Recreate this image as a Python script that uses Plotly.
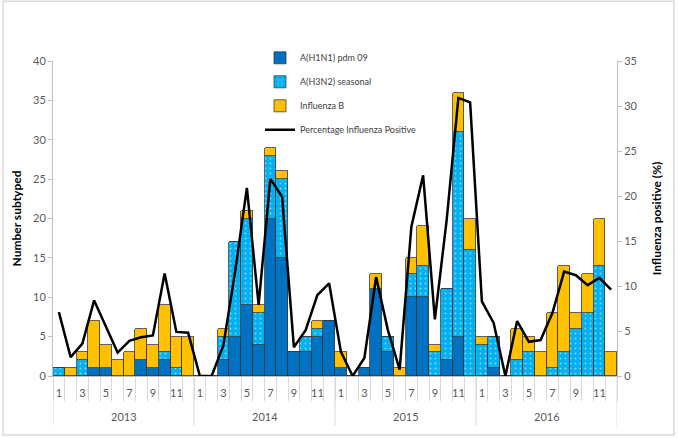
import plotly.graph_objects as go

years = ["2013", "2014", "2015", "2016"]
months = [str(m) for m in range(1, 13)]

h1n1 = [0, 0, 0, 1, 1, 0, 0, 2, 1, 2, 0, 0,
        0, 0, 2, 5, 9, 4, 20, 15, 3, 3, 5, 7,
        1, 0, 1, 11, 3, 0, 10, 10, 0, 2, 5, 0,
        0, 1, 0, 0, 0, 0, 0, 0, 0, 0, 0, 0]
h3n2 = [1, 0, 2, 0, 0, 0, 0, 0, 0, 1, 1, 0,
        0, 0, 3, 12, 11, 4, 8, 10, 0, 2, 1, 0,
        0, 0, 0, 0, 2, 0, 3, 4, 3, 9, 26, 16,
        4, 4, 0, 2, 3, 0, 1, 3, 6, 8, 14, 0]
flu_b = [0, 1, 1, 6, 3, 2, 3, 4, 3, 6, 4, 5,
         0, 0, 1, 0, 1, 1, 1, 1, 0, 0, 1, 0,
         2, 0, 0, 2, 0, 1, 2, 5, 1, 0, 5, 4,
         1, 0, 0, 4, 2, 3, 7, 11, 2, 5, 6, 3]
pct_pos = [7.1, 2.1, 3.6, 8.4, 5.5, 2.6, 3.9, 4.3, 4.5, 11.4, 4.9, 4.8,
           0, 0, 3.4, 11.6, 20.9, 7.9, 21.9, 19.9, 3.2, 5.1, 9.0, 10.3,
           2.7, 0, 2.0, 11.0, 5.1, 0.7, 16.6, 22.3, 6.3, 17.3, 30.9, 30.4,
           8.3, 5.9, 0, 6.1, 3.8, 4.0, 7.0, 11.6, 11.2, 10.1, 10.9, 9.6]

n = len(years) * len(months)
x = list(range(n))
month_labels = [months[i % 12] for i in x]

FONT = "Lato, 'Open Sans', sans-serif"
outline = dict(color="#3a3a3a", width=0.8)

fig = go.Figure()
fig.add_trace(go.Bar(x=x, y=h1n1, name="A(H1N1) pdm 09", legendgroup="a",
                     marker=dict(color="#0070C0", line=outline)))
fig.add_trace(go.Bar(x=x, y=h3n2, name="A(H3N2) seasonal", legendgroup="b",
                     marker=dict(color="#00B0F0", line=outline,
                                 pattern=dict(shape=".", fgcolor="white", bgcolor="#00B0F0",
                                              size=5, solidity=0.12))))
fig.add_trace(go.Bar(x=x, y=flu_b, name="Influenza B", legendgroup="c",
                     marker=dict(color="#FFC000", line=outline)))
fig.add_trace(go.Scatter(x=x, y=pct_pos, name="Percentage Influenza Positive", legendgroup="d",
                         mode="lines", line=dict(color="black", width=2.5), yaxis="y2"))

bounds = [i - 0.5 for i in range(n + 1)]
year_bounds = [i * 12 - 0.5 for i in range(len(years) + 1)]

for xb in year_bounds:
    fig.add_shape(type="line", xref="x", yref="paper", x0=xb, x1=xb, y0=0, y1=-0.158,
                  line=dict(color="#d9d9d9", width=1))
for k, yr in enumerate(years):
    fig.add_annotation(x=k * 12 + 5.5, y=-0.128, xref="x", yref="paper", text=yr,
                       showarrow=False, font=dict(size=11, color="#595959", family=FONT),
                       yanchor="middle")

pw, ph = 564, 315.3
fig.add_shape(type="rect", xref="paper", yref="paper",
              x0=(3 - 53) / pw, x1=(674 - 53) / pw, y0=(376 - 435) / ph, y1=(376 - 1) / ph,
              line=dict(color="#d9d9d9", width=1.5))

fig.update_layout(
    width=678, height=438,
    margin=dict(l=53, r=61, t=61, b=62),
    paper_bgcolor="white", plot_bgcolor="white",
    barmode="stack", bargap=0,
    font=dict(family=FONT, size=11, color="#595959"),
    showlegend=True,
    legend=dict(x=(260 - 53) / pw, y=(376 - 43) / ph, xanchor="left", yanchor="top",
                traceorder="grouped", tracegroupgap=5,
                font=dict(size=9, color="#404040", family=FONT),
                bgcolor="rgba(0,0,0,0)"),
    xaxis=dict(range=[-0.5, n - 0.5], tickmode="array",
               tickvals=x[::2], ticktext=month_labels[::2],
               ticks="outside", ticklen=7, tickcolor="rgba(0,0,0,0)",
               showline=True, linecolor="#bfbfbf", linewidth=1,
               showgrid=False, zeroline=False,
               tickfont=dict(size=11, color="#595959"),
               minor=dict(tickmode="array", tickvals=bounds, ticks="outside",
                          ticklen=24, tickcolor="#d9d9d9", tickwidth=1, showgrid=False)),
    yaxis=dict(range=[0, 40], dtick=5, showgrid=False, zeroline=False,
               showline=True, linecolor="#bfbfbf", ticks="outside", ticklen=4,
               tickcolor="#bfbfbf",
               title=dict(text="<b>Number subtyped</b>", font=dict(size=12, color="black"),
                          standoff=8)),
    yaxis2=dict(range=[0, 35], dtick=5, overlaying="y", side="right", showgrid=False,
                zeroline=False, showline=True, linecolor="#bfbfbf", ticks="outside",
                ticklen=4, tickcolor="#bfbfbf",
                title=dict(text="<b>Influenza positive (%)</b>",
                           font=dict(size=12, color="black"), standoff=16)),
)

fig.write_html("out.html", config={"displayModeBar": False},
               post_script="document.body.style.margin='0';")
